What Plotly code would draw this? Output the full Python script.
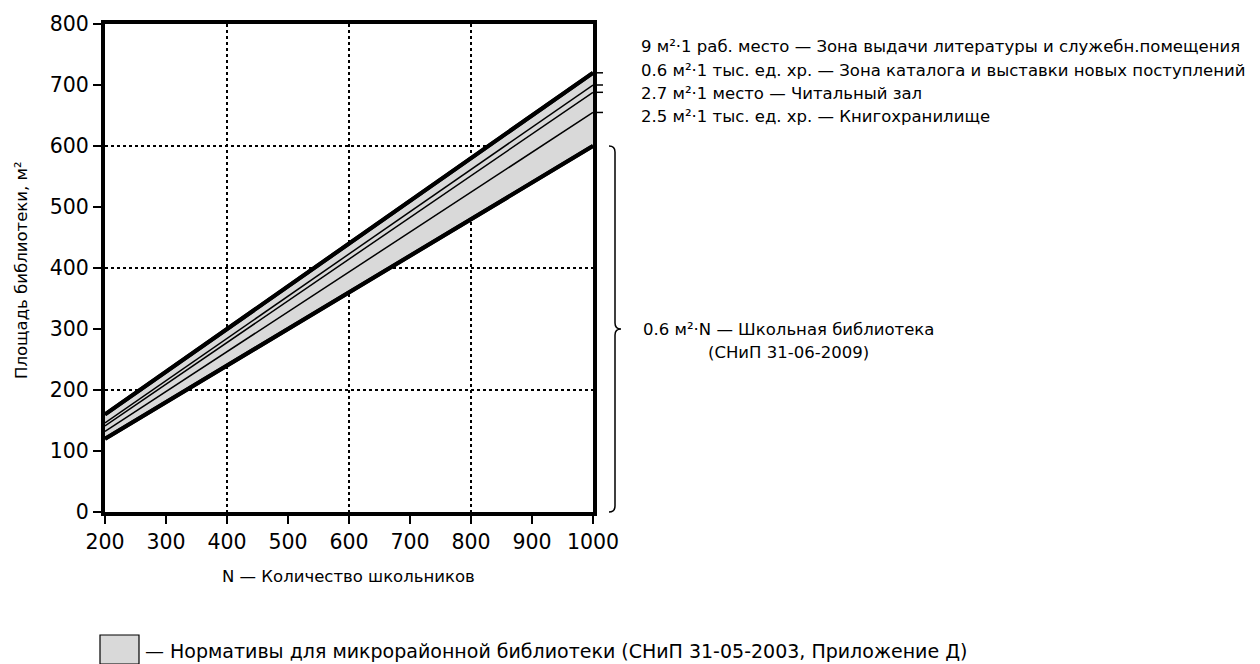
import plotly.graph_objects as go

# Number of pupils (x) and library area, m² (y)
pupils = [200, 1000]
school_norm = [120, 600]          # 0.6 m² · N
storage_total = [132, 655]        # cumulative: book storage
reading_total = [141, 688]        # cumulative: + reading room
catalog_total = [146, 700]        # cumulative: + catalog zone
issue_total = [160, 720]          # cumulative: + issue zone (upper bound)

right_labels = [
    "9 м²·1 раб. место — Зона выдачи литературы и служебн.помещения",
    "0.6 м²·1 тыс. ед. хр. — Зона каталога и выставки новых поступлений",
    "2.7 м²·1 место — Читальный зал",
    "2.5 м²·1 тыс. ед. хр. — Книгохранилище",
]
right_label_values = [issue_total[1], catalog_total[1], reading_total[1], storage_total[1]]

x_ticks = list(range(200, 1001, 100))
y_ticks = list(range(0, 801, 100))

FONT = "DejaVu Sans, sans-serif"
TICK_FONT = "DejaVu Sans, sans-serif"
TEXT_SIZE = 16.5
FILL = "#d9d9d9"

fig = go.Figure()

# shaded band between the school norm and the full micro-district norm
fig.add_trace(go.Scatter(x=pupils, y=school_norm, mode="lines",
                         line=dict(color="black", width=4), showlegend=False))
fig.add_trace(go.Scatter(x=pupils, y=issue_total, mode="lines", fill="tonexty",
                         fillcolor=FILL, line=dict(color="black", width=4),
                         showlegend=False))
for ys in (storage_total, reading_total, catalog_total):
    fig.add_trace(go.Scatter(x=pupils, y=ys, mode="lines",
                             line=dict(color="black", width=1.5), showlegend=False))
# redraw thick bounds on top
fig.add_trace(go.Scatter(x=pupils, y=school_norm, mode="lines",
                         line=dict(color="black", width=4), showlegend=False))
fig.add_trace(go.Scatter(x=pupils, y=issue_total, mode="lines",
                         line=dict(color="black", width=4), showlegend=False))

W, H = 1260, 664
L, R, T, B = 105, 667, 24, 152
pw, ph = W - L - R, H - T - B


def px_x(p):
    return (p - L) / pw


def px_y(p):
    return (H - B - p) / ph


shapes = []
annotations = []

# small marks and labels on the right side
label_y_px = [47, 70, 93, 116]
for val, txt, ly in zip(right_label_values, right_labels, label_y_px):
    yv = val / 800
    shapes.append(dict(type="line", xref="paper", yref="paper",
                       x0=1, x1=1 + 10 / pw, y0=yv, y1=yv,
                       line=dict(color="black", width=1.5)))
    annotations.append(dict(xref="paper", yref="paper", x=px_x(639), y=px_y(ly),
                            text=txt, showarrow=False, xanchor="left", yanchor="middle",
                            font=dict(family=FONT, size=TEXT_SIZE, color="black")))

# curly brace spanning the school norm range (0 … 600)
bx = 1 + 22 / pw
bt = school_norm[1] / 800
bb = 0.0
bm = (bt + bb) / 2
dx = 6 / pw
dy = 6 / ph
brace = (
    f"M {bx - dx},{bt} Q {bx},{bt} {bx},{bt - dy} "
    f"L {bx},{bm + dy} Q {bx},{bm} {bx + dx},{bm} "
    f"Q {bx},{bm} {bx},{bm - dy} "
    f"L {bx},{bb + dy} Q {bx},{bb} {bx - dx},{bb}"
)
shapes.append(dict(type="path", xref="paper", yref="paper", path=brace,
                   line=dict(color="black", width=1.5)))
annotations.append(dict(xref="paper", yref="paper", x=px_x(641), y=bm,
                        text="0.6 м²·N — Школьная библиотека", showarrow=False,
                        xanchor="left", yanchor="middle",
                        font=dict(family=FONT, size=TEXT_SIZE, color="black")))
annotations.append(dict(xref="paper", yref="paper", x=px_x(706), y=px_y(352),
                        text="(СНиП 31-06-2009)", showarrow=False,
                        xanchor="left", yanchor="middle",
                        font=dict(family=FONT, size=TEXT_SIZE, color="black")))

# legend swatch for the shaded band
shapes.append(dict(type="rect", xref="paper", yref="paper",
                   x0=px_x(100), x1=px_x(139), y0=px_y(664), y1=px_y(635),
                   fillcolor=FILL, line=dict(color="black", width=1.2)))
annotations.append(dict(xref="paper", yref="paper", x=px_x(143), y=px_y(651),
                        text="— Нормативы для микрорайонной библиотеки (СНиП 31-05-2003, Приложение Д)",
                        showarrow=False, xanchor="left", yanchor="middle",
                        font=dict(family=FONT, size=19, color="black")))

# axis titles
annotations.append(dict(xref="paper", yref="paper", x=px_x(348), y=px_y(576),
                        text="N — Количество школьников", showarrow=False,
                        xanchor="center", yanchor="middle",
                        font=dict(family=FONT, size=TEXT_SIZE, color="black")))
annotations.append(dict(xref="paper", yref="paper", x=px_x(21), y=px_y(270),
                        text="Площадь библиотеки, м²", showarrow=False, textangle=-90,
                        xanchor="center", yanchor="middle",
                        font=dict(family=FONT, size=TEXT_SIZE, color="black")))

axis_common = dict(
    showline=True, linecolor="black", linewidth=4, mirror=True,
    ticks="outside", ticklen=8, tickwidth=2, tickcolor="black",
    showgrid=False, zeroline=False,
    tickfont=dict(family=TICK_FONT, size=20.5, color="black"),
    minor=dict(showgrid=True, griddash="dot", gridcolor="black", gridwidth=1.5,
               dtick=200, ticks=""),
)

fig.update_layout(
    width=W, height=H,
    margin=dict(l=L, r=R, t=T, b=B),
    paper_bgcolor="white", plot_bgcolor="white",
    xaxis=dict(range=[200, 1000], tickvals=x_ticks, **axis_common),
    yaxis=dict(range=[0, 800], tickvals=y_ticks, **axis_common),
    shapes=shapes, annotations=annotations,
    showlegend=False,
)
fig.update_xaxes(minor_tick0=200)
fig.update_yaxes(minor_tick0=0)

fig.write_html("out.html")
